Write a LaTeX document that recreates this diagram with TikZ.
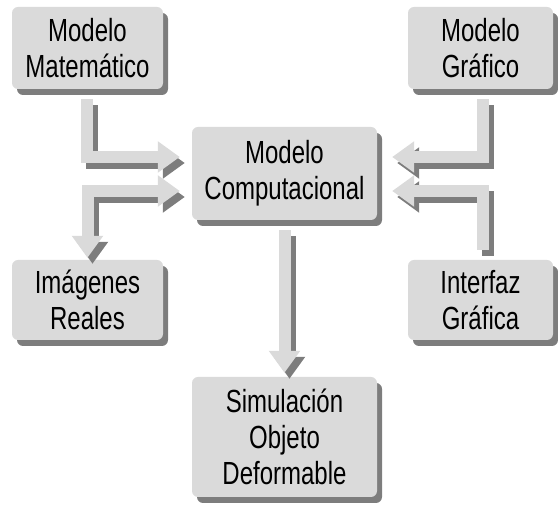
\documentclass[tikz,border=0pt]{standalone}
\usepackage{fontspec}
\setmainfont{Liberation Sans}[FakeStretch=0.75]
\usetikzlibrary{arrows.meta}
\definecolor{claro}{RGB}{218,218,218}
\definecolor{oscuro}{RGB}{125,125,125}

\begin{document}
\begin{tikzpicture}[x=1pt,y=1pt,>={Triangle[width=30pt,length=22pt]},
                    font=\fontsize{32}{36}\selectfont]
  \tikzstyle{caja}=[rectangle,rounded corners=6pt,fill=claro,text=black,align=center,inner sep=0pt,
                    preaction={fill=oscuro,transform canvas={shift={(5pt,-6pt)}}}]
  \tikzstyle{flecha}=[draw=claro,line width=12pt,line join=miter]
  \tikzstyle{sombra}=[draw=oscuro,line width=12pt,line join=miter,transform canvas={shift={(5pt,-6pt)}}]

  \useasboundingbox (0,0) rectangle (558,506);

  \node[caja,minimum width=151pt,minimum height=82pt]  (mate)  at (87.5,458)  {Modelo\\Matemático};
  \node[caja,minimum width=145pt,minimum height=82pt]  (graf)  at (480.5,458) {Modelo\\Gráfico};
  \node[caja,minimum width=185pt,minimum height=93pt]  (comp)  at (284.5,332.5) {Modelo\\Computacional};
  \node[caja,minimum width=151pt,minimum height=80pt]  (imag)  at (87.5,206)  {Imágenes\\Reales};
  \node[caja,minimum width=145pt,minimum height=80pt]  (inter) at (480.5,206) {Interfaz\\Gráfica};
  \node[caja,minimum width=185pt,minimum height=120pt] (simu)  at (284.5,69)  {Simulación\\Objeto\\Deformable};

  % sombras
  \draw[sombra,->] ([xshift=-1pt,yshift=-10pt]mate.south) |- ([xshift=-12pt,yshift=16.5pt]comp.west);
  \draw[sombra,<->] ([xshift=-12pt,yshift=-17.5pt]comp.west) -| ([yshift=2pt]imag.north);
  \draw[sombra,->] ([xshift=2pt,yshift=-10pt]graf.south) |- ([xshift=15pt,yshift=16.5pt]comp.east);
  \draw[sombra,->] ([xshift=2pt,yshift=10pt]inter.north) |- ([xshift=15pt,yshift=-17.5pt]comp.east);
  \draw[sombra,->] ([yshift=-10pt]comp.south) -- ([yshift=4pt]simu.north);

  % flechas
  \draw[flecha,->] ([xshift=-1pt,yshift=-10pt]mate.south) |- ([xshift=-12pt,yshift=16.5pt]comp.west);
  \draw[flecha,<->] ([xshift=-12pt,yshift=-17.5pt]comp.west) -| ([yshift=2pt]imag.north);
  \draw[flecha,->] ([xshift=2pt,yshift=-10pt]graf.south) |- ([xshift=15pt,yshift=16.5pt]comp.east);
  \draw[flecha,->] ([xshift=2pt,yshift=10pt]inter.north) |- ([xshift=15pt,yshift=-17.5pt]comp.east);
  \draw[flecha,->] ([yshift=-10pt]comp.south) -- ([yshift=4pt]simu.north);
\end{tikzpicture}
\end{document}
